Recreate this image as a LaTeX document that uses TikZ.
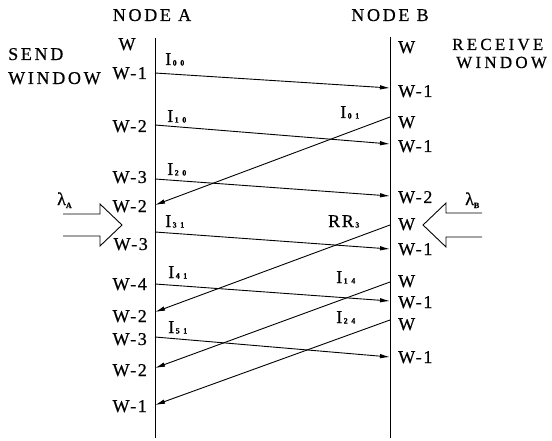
\documentclass[tikz,border=0pt]{standalone}
\usepackage{fontspec}
\setmainfont{Liberation Serif}
\usetikzlibrary{arrows.meta}
\newcommand{\sbs}[1]{\hspace{1.5pt}\raisebox{-0.5pt}{\fontsize{8}{8}\selectfont\bfseries\addfontfeatures{LetterSpace=45}#1}}
\newcommand{\lsub}[1]{λ\raisebox{-3pt}{\fontsize{8}{8}\selectfont\bfseries #1}}
\tikzset{
  lbl/.style={inner sep=0pt, font=\fontsize{18}{18}\selectfont\addfontfeatures{LetterSpace=9,FakeBold=0.6}},
  ttl/.style={inner sep=0pt, font=\fontsize{18}{18}\selectfont\addfontfeatures{LetterSpace=15,FakeBold=0.6}},
  rttl/.style={inner sep=0pt, font=\fontsize{17}{17}\selectfont\addfontfeatures{LetterSpace=19,FakeBold=0.6}},
  msg/.style={line width=0.9pt, -{Latex[length=10pt,width=4.5pt]}},
  axisline/.style={line width=1pt},
  fat/.style={line width=0.9pt, line join=miter}
}
\begin{document}
\begin{tikzpicture}[x=1pt,y=-1pt]
\useasboundingbox (0,0) rectangle (552,441);
% time lines
\coordinate (Atop) at (155,38); \coordinate (Abot) at (155,438);
\coordinate (Btop) at (390,37); \coordinate (Bbot) at (390,438);
\draw[axisline] (Atop) -- (Abot);
\draw[axisline] (Btop) -- (Bbot);
% titles
\node[ttl, anchor=base] (ta) at (152,21) {NODE A};
\node[ttl, anchor=base] (tb) at (390,21) {NODE B};
\node[ttl, anchor=base west] (sw1) at (8,60) {SEND};
\node[ttl, anchor=base west] (sw2) at (8,84) {WINDOW};
\node[rttl, anchor=base west] (rw1) at (452,50) {RECEIVE};
\node[rttl, anchor=base west] (rw2) at (456,68) {WINDOW};
% A side window labels
\node[lbl, anchor=base] (la0) at (127,50) {W};
\node[lbl, anchor=base east] (la1) at (147,79) {W-1};
\node[lbl, anchor=base east] (la2) at (147,132) {W-2};
\node[lbl, anchor=base east] (la3) at (147,183) {W-3};
\node[lbl, anchor=base east] (la4) at (147,212) {W-2};
\node[lbl, anchor=base east] (la5) at (148,250) {W-3};
\node[lbl, anchor=base east] (la6) at (147,290) {W-4};
\node[lbl, anchor=base east] (la7) at (147,322) {W-2};
\node[lbl, anchor=base east] (la8) at (147,345) {W-3};
\node[lbl, anchor=base east] (la9) at (147,376) {W-2};
\node[lbl, anchor=base east] (la10) at (147,412) {W-1};
% B side window labels
\node[lbl, anchor=base west] (lb0) at (398,53) {W};
\node[lbl, anchor=base west] (lb1) at (398,97) {W-1};
\node[lbl, anchor=base west] (lb2) at (398,128) {W};
\node[lbl, anchor=base west] (lb3) at (398,152) {W-1};
\node[lbl, anchor=base west] (lb4) at (398,203) {W-2};
\node[lbl, anchor=base west] (lb5) at (398,230) {W};
\node[lbl, anchor=base west] (lb6) at (398,255) {W-1};
\node[lbl, anchor=base west] (lb7) at (398,287) {W};
\node[lbl, anchor=base west] (lb8) at (398,308) {W-1};
\node[lbl, anchor=base west] (lb9) at (398,330) {W};
\node[lbl, anchor=base west] (lb10) at (398,363) {W-1};
% message end points
\coordinate (a00) at (155,73);  \coordinate (b00) at (390,88);
\coordinate (a10) at (155,125); \coordinate (b10) at (390,144);
\coordinate (a20) at (155,179); \coordinate (b20) at (390,196);
\coordinate (a31) at (155,232); \coordinate (b31) at (390,249);
\coordinate (a41) at (155,284); \coordinate (b41) at (390,301);
\coordinate (a51) at (155,337); \coordinate (b51) at (390,357);
\coordinate (b01) at (390,117); \coordinate (a01) at (155,205);
\coordinate (brr) at (390,225); \coordinate (arr) at (155,312);
\coordinate (b14) at (390,282); \coordinate (a14) at (155,368);
\coordinate (b24) at (390,320); \coordinate (a24) at (155,405);
% messages A -> B
\draw[msg] (a00) -- (b00);
\draw[msg] (a10) -- (b10);
\draw[msg] (a20) -- (b20);
\draw[msg] (a31) -- (b31);
\draw[msg] (a41) -- (b41);
\draw[msg] (a51) -- (b51);
% messages B -> A
\draw[msg] (b01) -- (a01);
\draw[msg] (brr) -- (arr);
\draw[msg] (b14) -- (a14);
\draw[msg] (b24) -- (a24);
% message labels
\node[lbl, anchor=base west] (m00) at (165,65) {I\sbs{00}};
\node[lbl, anchor=base west] (m10) at (167,122) {I\sbs{10}};
\node[lbl, anchor=base west] (m20) at (167,175) {I\sbs{20}};
\node[lbl, anchor=base west] (m31) at (165,227) {I\sbs{31}};
\node[lbl, anchor=base west] (m41) at (168,278) {I\sbs{41}};
\node[lbl, anchor=base west] (m51) at (168,333) {I\sbs{51}};
\node[lbl, anchor=base west] (m01) at (340,118) {I\sbs{01}};
\node[lbl, anchor=base west] (mrr) at (328,227) {RR\sbs{3}};
\node[lbl, anchor=base west] (m14) at (336,283) {I\sbs{14}};
\node[lbl, anchor=base west] (m24) at (336,323) {I\sbs{24}};
% arrival rates
\node[lbl, anchor=base west] (lamA) at (57,205) {\lsub{A}};
\node[lbl, anchor=base west] (lamB) at (465,205) {\lsub{B}};
\draw[fat] (63,214) -- (100,214) -- (100,204) -- (122,225) -- (100,246) -- (100,236) -- (63,236);
\draw[fat] (482,213) -- (446,213) -- (446,203) -- (423,225) -- (446,247) -- (446,237) -- (482,237);
\end{tikzpicture}
\end{document}
